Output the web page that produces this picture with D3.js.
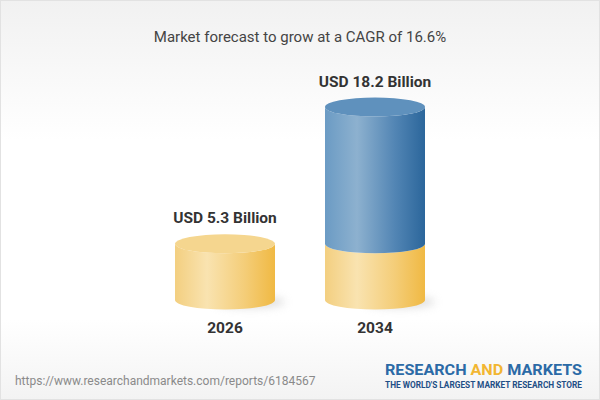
<!DOCTYPE html>
<html>
<head>
<meta charset="utf-8">
<script src="https://cdn.jsdelivr.net/npm/d3@7"></script>
<style>
  body { margin: 0; background: #fff; }
  svg { display: block; font-family: Roboto, "Noto Sans", sans-serif; }
</style>
</head>
<body>
<svg></svg>
<script>
const years = ['2026', '2034'];
const values = [5.3, 18.2];
const valueLabels = ['USD 5.3 Billion', 'USD 18.2 Billion'];
const title = 'Market forecast to grow at a CAGR of 16.6%';
const sourceUrl = 'https://www.researchandmarkets.com/reports/6184567';

const width = 600;
const height = 400;
const baseY = 300;
const ry = 9.5;

let svg = d3.select('svg')
    .attr('width', width)
    .attr('height', height);

let defs = svg.append('defs');

function addGradient (id, stops, x2, y2) {
    let g = defs.append('linearGradient')
        .attr('id', id)
        .attr('x1', 0).attr('y1', 0)
        .attr('x2', x2).attr('y2', y2);
    stops.forEach(s => {
        g.append('stop').attr('offset', s[0]).attr('stop-color', s[1]);
    });
}

addGradient('bg', [[0, '#f1f1f1'], [0.35, '#ffffff'], [0.8, '#ffffff'], [1, '#f3f3f3']], 0, 1);
addGradient('yellowSide', [[0, '#f3cf80'], [0.32, '#f9e3b0'], [0.7, '#f4cd78'], [1, '#f0b943']], 1, 0);
addGradient('blueSide', [[0, '#6b9bc4'], [0.32, '#8db1cf'], [0.7, '#5285b4'], [1, '#2b669b']], 1, 0);

let blur = defs.append('filter').attr('id', 'shadow').attr('x', '-50%').attr('y', '-200%').attr('width', '200%').attr('height', '500%');
blur.append('feGaussianBlur').attr('stdDeviation', 4);

// background + frame
svg.append('rect')
    .attr('x', 0.5).attr('y', 0.5)
    .attr('width', width - 1).attr('height', height - 1)
    .attr('fill', 'url(#bg)')
    .attr('stroke', '#e2e2e2');

const xScale = d3.scaleBand()
    .domain(years)
    .range([125, 475])
    .paddingInner(1 / 3)
    .paddingOuter(1 / 3);

const yScale = d3.scaleLinear()
    .domain([0, 18.2])
    .range([baseY, 107]);

// segments: later year shows the base value in yellow, the growth in blue
let segments = [];
years.forEach((yr, i) => {
    segments.push({ year: yr, y0: 0, y1: values[0], side: 'yellowSide', top: '#f5d68f', isTop: i === 0 });
    if (i > 0) {
        segments.push({ year: yr, y0: values[0], y1: values[i], side: 'blueSide', top: '#5f91bd', isTop: true });
    }
});

function bodyPath (d) {
    const x0 = xScale(d.year);
    const w = xScale.bandwidth();
    const rx = w / 2;
    const yb = yScale(d.y0);
    const yt = yScale(d.y1);
    return 'M' + x0 + ',' + yt +
        ' L' + x0 + ',' + yb +
        ' A' + rx + ',' + ry + ' 0 0 0 ' + (x0 + w) + ',' + yb +
        ' L' + (x0 + w) + ',' + yt +
        ' A' + rx + ',' + ry + ' 0 0 1 ' + x0 + ',' + yt + ' Z';
}

// shadows
svg.selectAll('ellipse.shadow')
    .data(years)
    .enter()
    .append('ellipse')
    .attr('class', 'shadow')
    .attr('cx', d => xScale(d) + xScale.bandwidth() * 0.75)
    .attr('cy', yScale(0) + 2)
    .attr('rx', xScale.bandwidth() * 0.35)
    .attr('ry', 6)
    .attr('fill', '#c8c8c8')
    .attr('opacity', 0.6)
    .attr('filter', 'url(#shadow)');

svg.selectAll('path.body')
    .data(segments)
    .enter()
    .append('path')
    .attr('class', 'body')
    .attr('d', bodyPath)
    .attr('fill', d => 'url(#' + d.side + ')');

svg.selectAll('ellipse.top')
    .data(segments.filter(d => d.isTop))
    .enter()
    .append('ellipse')
    .attr('class', 'top')
    .attr('cx', d => xScale(d.year) + xScale.bandwidth() / 2)
    .attr('cy', d => yScale(d.y1))
    .attr('rx', xScale.bandwidth() / 2)
    .attr('ry', ry)
    .attr('fill', d => d.top);

// value labels
svg.selectAll('text.value')
    .data(years)
    .enter()
    .append('text')
    .attr('class', 'value')
    .attr('x', d => xScale(d) + xScale.bandwidth() / 2)
    .attr('y', (d, i) => yScale(values[i]) - ry - 11)
    .attr('text-anchor', 'middle')
    .attr('font-size', 15.5)
    .attr('font-weight', 'bold')
    .attr('fill', '#333')
    .text((d, i) => valueLabels[i]);

// x axis labels
let xAxis = d3.axisBottom(xScale).tickSize(0).tickPadding(0);
let gx = svg.append('g')
    .attr('transform', 'translate(0,' + (baseY + 33) + ')')
    .call(xAxis);
gx.select('.domain').remove();
gx.selectAll('text')
    .attr('font-family', 'Roboto, sans-serif')
    .attr('font-size', 15.5)
    .attr('font-weight', 'bold')
    .attr('fill', '#333')
    .attr('dy', 0);

// title
svg.append('text')
    .attr('x', 300)
    .attr('y', 42)
    .attr('text-anchor', 'middle')
    .attr('font-size', 15)
    .attr('fill', '#444')
    .text(title);

// source url
svg.append('text')
    .attr('x', 15)
    .attr('y', 385)
    .attr('font-size', 12)
    .attr('fill', '#8a8a8a')
    .text(sourceUrl);

// logo
let logo = svg.append('text')
    .attr('x', 385)
    .attr('y', 375)
    .attr('font-size', 14.5)
    .attr('font-weight', 'bold')
    .attr('textLength', 197)
    .attr('lengthAdjust', 'spacingAndGlyphs')
    .attr('fill', '#2b6aa6');
logo.append('tspan').text('RESEARCH ');
logo.append('tspan').attr('fill', '#f2b632').text('AND');
logo.append('tspan').text(' MARKETS');

svg.append('text')
    .attr('x', 385)
    .attr('y', 387.5)
    .attr('font-size', 8.5)
    .attr('font-weight', 'bold')
    .attr('textLength', 197)
    .attr('lengthAdjust', 'spacingAndGlyphs')
    .attr('fill', '#1f4f86')
    .text("THE WORLD'S LARGEST MARKET RESEARCH STORE");
</script>
</body>
</html>
